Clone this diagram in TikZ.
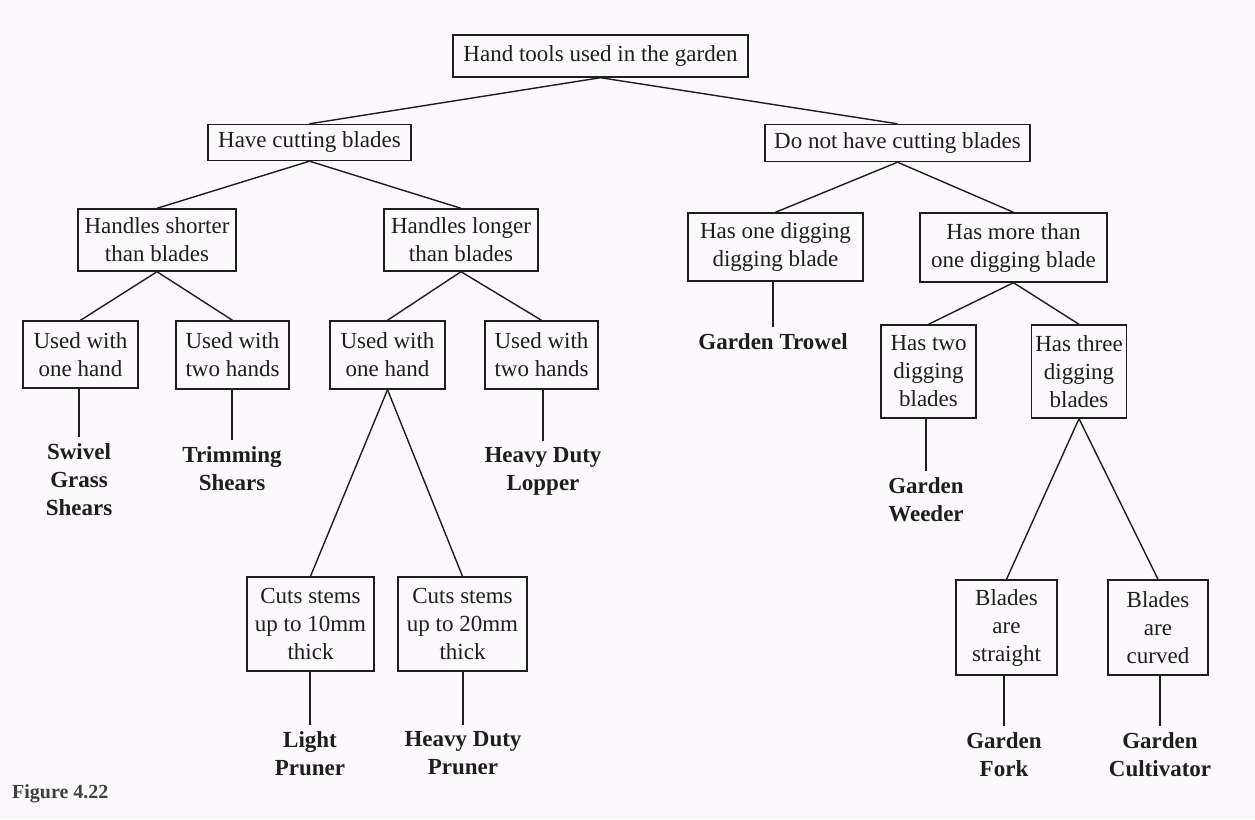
\documentclass[tikz,border=0pt]{standalone}
\usepackage{fontspec}
\setmainfont{Liberation Serif}
\definecolor{paper}{RGB}{251,249,251}
\definecolor{ink}{RGB}{30,30,30}
\begin{document}
\begin{tikzpicture}[x=1pt,y=-1pt,
  every node/.style={font=\fontsize{23}{28}\selectfont, text=ink},
  box/.style={draw=ink, line width=1.4pt, align=center, inner sep=0pt},
  leaf/.style={align=center, inner xsep=0pt, inner ysep=6pt, anchor=north, font=\fontsize{23}{28}\selectfont\bfseries},
  link/.style={draw=ink, line width=1.4pt}]
\fill[paper] (0,0) rectangle (1255,819);
\useasboundingbox (0,0) rectangle (1255,819);
% boxes
\node[box, minimum width=295pt, minimum height=42pt] (root) at (600.5,56) {Hand tools used in the garden};
\node[box, minimum width=203pt, minimum height=36pt] (cut) at (309.5,142.5) {Have cutting blades};
\node[box, minimum width=265pt, minimum height=37pt] (nocut) at (897.5,143) {Do not have cutting blades};
\node[box, minimum width=158pt, minimum height=62pt] (hshort) at (157,240) {Handles shorter\\than blades};
\node[box, minimum width=154pt, minimum height=62pt] (hlong) at (461,240) {Handles longer\\than blades};
\node[box, minimum width=115pt, minimum height=67pt] (uone) at (80.5,354.5) {Used with\\one hand};
\node[box, minimum width=113pt, minimum height=68pt] (utwo) at (232.5,355) {Used with\\two hands};
\node[box, minimum width=115pt, minimum height=68pt] (uthree) at (387.5,355) {Used with\\one hand};
\node[box, minimum width=113pt, minimum height=68pt] (ufour) at (541.5,355) {Used with\\two hands};
\node[box, minimum width=127pt, minimum height=94pt] (cten) at (310.5,624) {Cuts stems\\up to 10mm\\thick};
\node[box, minimum width=129pt, minimum height=94pt] (ctwenty) at (462.5,624) {Cuts stems\\up to 20mm\\thick};
\node[box, minimum width=175pt, minimum height=68pt] (one) at (775.5,247) {Has one digging\\digging blade};
\node[box, minimum width=187pt, minimum height=69pt] (more) at (1013.5,247.5) {Has more than\\one digging blade};
\node[box, minimum width=95pt, minimum height=93pt] (two) at (928.5,371.5) {Has two\\digging\\blades};
\node[box, minimum width=95pt, minimum height=93pt] (three) at (1079,371.5) {Has three\\digging\\blades};
\node[box, minimum width=101pt, minimum height=95pt] (straight) at (1006.5,627.5) {Blades\\are\\straight};
\node[box, minimum width=100pt, minimum height=95pt] (curved) at (1158,627.5) {Blades\\are\\curved};
% leaves
\node[leaf] (swivel) at (79,437) {Swivel\\Grass\\Shears};
\node[leaf] (trim) at (232,440) {Trimming\\Shears};
\node[leaf] (lopper) at (543,441) {Heavy Duty\\Lopper};
\node[leaf] (trowel) at (773,327) {Garden Trowel};
\node[leaf] (weeder) at (926,471) {Garden\\Weeder};
\node[leaf] (light) at (310,725) {Light\\Pruner};
\node[leaf] (heavy) at (463,725) {Heavy Duty\\Pruner};
\node[leaf] (fork) at (1004,726) {Garden\\Fork};
\node[leaf] (cultiv) at (1160,726) {Garden\\Cultivator};
% connectors
\draw[link] (root.south) -- (cut.north);
\draw[link] (root.south) -- (nocut.north);
\draw[link] (cut.south) -- (hshort.north);
\draw[link] (cut.south) -- (hlong.north);
\draw[link] (hshort.south) -- (uone.north);
\draw[link] (hshort.south) -- (utwo.north);
\draw[link] (hlong.south) -- (uthree.north);
\draw[link] (hlong.south) -- (ufour.north);
\draw[link] (uthree.south) -- (cten.north);
\draw[link] (uthree.south) -- (ctwenty.north);
\draw[link] (nocut.south) -- (one.north);
\draw[link] (nocut.south) -- (more.north);
\draw[link] (more.south) -- (two.north);
\draw[link] (more.south) -- (three.north);
\draw[link] (three.south) -- (straight.north);
\draw[link] (three.south) -- (curved.north);
\draw[link] (swivel.north |- uone.south) -- (swivel.north);
\draw[link] (trim.north |- utwo.south) -- (trim.north);
\draw[link] (lopper.north |- ufour.south) -- (lopper.north);
\draw[link] (trowel.north |- one.south) -- (trowel.north);
\draw[link] (weeder.north |- two.south) -- (weeder.north);
\draw[link] (light.north |- cten.south) -- (light.north);
\draw[link] (heavy.north |- ctwenty.south) -- (heavy.north);
\draw[link] (fork.north |- straight.south) -- (fork.north);
\draw[link] (cultiv.north |- curved.south) -- (cultiv.north);
% caption
\node[anchor=base west, inner sep=0pt, font=\fontsize{20}{24}\selectfont\bfseries, text=ink!85] (fig) at (12,798) {Figure 4.22};
\end{tikzpicture}
\end{document}
